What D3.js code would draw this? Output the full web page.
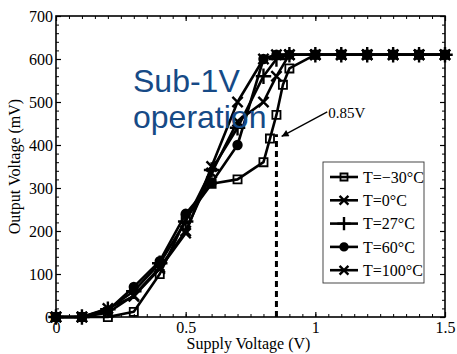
<!DOCTYPE html>
<html>
<head>
<meta charset="utf-8">
<script src="https://cdn.jsdelivr.net/npm/d3@7"></script>
<style>
  html, body { margin: 0; padding: 0; background: #fff; }
  svg { display: block; }
  text { font-family: "Liberation Serif", "Times New Roman", serif; fill: #000; }
</style>
</head>
<body>
<div id="chart"></div>
<script>
// ---- data (supply voltage in V, output voltage in mV) ----
const seriesNames = ["T=\u221230\u00B0C", "T=0\u00B0C", "T=27\u00B0C", "T=60\u00B0C", "T=100\u00B0C"];

const vddM30 = [0, 0.1, 0.2, 0.3, 0.4, 0.5, 0.6, 0.7, 0.8, 0.825, 0.85, 0.875, 0.9, 1.0, 1.1, 1.2, 1.3, 1.4, 1.5];
const voutM30 = [0, 0, 0, 12, 100, 228, 310, 320, 360, 415, 470, 540, 578, 610, 610, 610, 610, 610, 610];

const vdd0 = [0, 0.1, 0.2, 0.3, 0.4, 0.5, 0.6, 0.7, 0.8, 0.85, 0.9, 1.0, 1.1, 1.2, 1.3, 1.4, 1.5];
const vout0 = [0, 0, 10, 50, 115, 200, 335, 455, 500, 560, 610, 610, 610, 610, 610, 610, 610];

const vdd27 = [0, 0.1, 0.2, 0.3, 0.4, 0.5, 0.6, 0.7, 0.8, 0.85, 0.9, 1.0, 1.1, 1.2, 1.3, 1.4, 1.5];
const vout27 = [0, 0, 18, 60, 125, 222, 342, 440, 560, 600, 610, 610, 610, 610, 610, 610, 610];

const vdd60 = [0, 0.1, 0.2, 0.3, 0.4, 0.5, 0.6, 0.7, 0.8, 0.85, 0.9, 1.0, 1.1, 1.2, 1.3, 1.4, 1.5];
const vout60 = [0, 0, 15, 70, 130, 240, 312, 400, 600, 610, 610, 610, 610, 610, 610, 610, 610];

const vdd100 = [0, 0.1, 0.2, 0.3, 0.4, 0.5, 0.6, 0.7, 0.8, 0.85, 0.9, 1.0, 1.1, 1.2, 1.3, 1.4, 1.5];
const vout100 = [0, 0, 20, 48, 112, 195, 350, 500, 600, 610, 610, 610, 610, 610, 610, 610, 610];

const xTicks = [0, 0.5, 1, 1.5];
const yTicks = [0, 100, 200, 300, 400, 500, 600, 700];

// 0.85 V marker annotation
const markVdd = 0.85;
const markTop = 425;
const arrowFrom = [1.046, 477];
const arrowTo = [0.87, 420];
const arrowLabel = "0.85V";
const calloutLines = ["Sub-1V", "operation"];

// ---- layout ----
const W = 457, H = 354;
const margin = { top: 16, right: 12, bottom: 37, left: 56 };

const x = d3.scaleLinear().domain([0, 1.5]).range([margin.left, W - margin.right]);
const y = d3.scaleLinear().domain([0, 700]).range([H - margin.bottom, margin.top]);

const svg = d3.select("#chart").append("svg").attr("width", W).attr("height", H);

const xMinor = d3.range(0, 1.5001, 0.05).map(v => +v.toFixed(2));
const yMinor = d3.range(0, 700.1, 20);

// minor ticks (inward) on all four sides
function minorAxis(gen, vals, tr) {
  svg.append("g").attr("transform", tr)
    .call(gen.tickValues(vals).tickFormat("").tickSizeInner(-3).tickSizeOuter(0))
    .call(g => g.select(".domain").remove())
    .call(g => g.selectAll("line").attr("stroke", "#000").attr("stroke-width", 1));
}
minorAxis(d3.axisBottom(x), xMinor, `translate(0,${y(0)})`);
minorAxis(d3.axisTop(x), xMinor, `translate(0,${y(700)})`);
minorAxis(d3.axisLeft(y), yMinor, `translate(${x(0)},0)`);
minorAxis(d3.axisRight(y), yMinor, `translate(${x(1.5)},0)`);

// major ticks + labels
const fmtX = d3.format("");
svg.append("g").attr("transform", `translate(0,${y(0)})`)
  .call(d3.axisBottom(x).tickValues(xTicks).tickFormat(d => fmtX(d)).tickSizeInner(-5).tickSizeOuter(0).tickPadding(5))
  .call(g => g.select(".domain").remove())
  .call(g => g.selectAll("line").attr("stroke", "#000").attr("stroke-width", 1.2))
  .call(g => g.selectAll("text").attr("font-size", 16).attr("font-family", "Liberation Serif, serif"));
svg.append("g").attr("transform", `translate(0,${y(700)})`)
  .call(d3.axisTop(x).tickValues(xTicks).tickFormat("").tickSizeInner(-5).tickSizeOuter(0))
  .call(g => g.select(".domain").remove())
  .call(g => g.selectAll("line").attr("stroke", "#000").attr("stroke-width", 1.2));
svg.append("g").attr("transform", `translate(${x(0)},0)`)
  .call(d3.axisLeft(y).tickValues(yTicks).tickSizeInner(-5).tickSizeOuter(0).tickPadding(3))
  .call(g => g.select(".domain").remove())
  .call(g => g.selectAll("line").attr("stroke", "#000").attr("stroke-width", 1.2))
  .call(g => g.selectAll("text").attr("font-size", 16).attr("font-family", "Liberation Serif, serif"));
svg.append("g").attr("transform", `translate(${x(1.5)},0)`)
  .call(d3.axisRight(y).tickValues(yTicks).tickFormat("").tickSizeInner(-5).tickSizeOuter(0))
  .call(g => g.select(".domain").remove())
  .call(g => g.selectAll("line").attr("stroke", "#000").attr("stroke-width", 1.2));

// frame
svg.append("rect")
  .attr("x", x(0)).attr("y", y(700))
  .attr("width", x(1.5) - x(0)).attr("height", y(0) - y(700))
  .attr("fill", "none").attr("stroke", "#000").attr("stroke-width", 1.6);

// axis titles
svg.append("text")
  .attr("x", (x(0) + x(1.5)) / 2 - 2).attr("y", 349)
  .attr("text-anchor", "middle").attr("font-size", 16)
  .text("Supply Voltage (V)");
svg.append("text")
  .attr("transform", `translate(20,${(y(0) + y(700)) / 2}) rotate(-90)`)
  .attr("text-anchor", "middle").attr("font-size", 16)
  .text("Output Voltage (mV)");

// vertical dashed marker at 0.85 V
svg.append("line")
  .attr("x1", x(markVdd)).attr("x2", x(markVdd))
  .attr("y1", y(0)).attr("y2", y(markTop))
  .attr("stroke", "#000").attr("stroke-width", 3)
  .attr("stroke-dasharray", "6,4");

// series
const series = [
  { name: seriesNames[0], xs: vddM30, ys: voutM30, sym: d3.symbolSquare, size: 66, filled: false },
  { name: seriesNames[1], xs: vdd0, ys: vout0, sym: d3.symbolTimes, size: 70, filled: false },
  { name: seriesNames[2], xs: vdd27, ys: vout27, sym: d3.symbolPlus, size: 80, filled: false },
  { name: seriesNames[3], xs: vdd60, ys: vout60, sym: d3.symbolCircle, size: 50, filled: true },
  { name: seriesNames[4], xs: vdd100, ys: vout100, sym: d3.symbolTimes, size: 70, filled: false }
];

const line = d3.line().x(d => x(d[0])).y(d => y(d[1]));

function drawMarker(g, s, cx, cy, scale = 1) {
  g.append("path")
    .attr("transform", `translate(${cx},${cy})`)
    .attr("d", d3.symbol().type(s.sym).size(s.size * scale)())
    .attr("fill", s.filled ? "#000" : "none")
    .attr("stroke", "#000")
    .attr("stroke-width", s.sym === d3.symbolSquare ? 1.8 : 2.4);
}

const plot = svg.append("g");
series.forEach(s => {
  const pts = s.xs.map((v, i) => [v, s.ys[i]]);
  plot.append("path").datum(pts)
    .attr("d", line)
    .attr("fill", "none").attr("stroke", "#000")
    .attr("stroke-width", 2.6).attr("stroke-linejoin", "round");
});
series.forEach(s => {
  const g = plot.append("g");
  s.xs.forEach((v, i) => drawMarker(g, s, x(v), y(s.ys[i])));
});

// arrow annotation
svg.append("defs").append("marker")
  .attr("id", "head").attr("viewBox", "0 0 10 10")
  .attr("refX", 10).attr("refY", 5)
  .attr("markerWidth", 9).attr("markerHeight", 7)
  .attr("markerUnits", "userSpaceOnUse")
  .attr("orient", "auto")
  .append("path").attr("d", "M0,0 L10,5 L0,10 Z").attr("fill", "#000");
svg.append("line")
  .attr("x1", x(arrowFrom[0])).attr("y1", y(arrowFrom[1]))
  .attr("x2", x(arrowTo[0])).attr("y2", y(arrowTo[1]))
  .attr("stroke", "#000").attr("stroke-width", 1.3)
  .attr("marker-end", "url(#head)");
svg.append("text")
  .attr("x", x(arrowFrom[0]) + 1).attr("y", y(arrowFrom[1]) + 6)
  .attr("font-size", 15)
  .text(arrowLabel);

// blue callout text
const callout = svg.append("text")
  .attr("font-size", 32)
  .style("fill", "#164a86")
  .style("font-family", "'Liberation Sans', Arial, sans-serif");
callout.selectAll("tspan").data(calloutLines).join("tspan")
  .attr("x", 133)
  .attr("y", (d, i) => 91.5 + i * 36.5)
  .text(d => d);

// legend
const lg = svg.append("g");
const lgX = 323, lgY = 162, lgW = 101, lgH = 121;
lg.append("rect")
  .attr("x", lgX).attr("y", lgY).attr("width", lgW).attr("height", lgH)
  .attr("fill", "#fff").attr("stroke", "#333").attr("stroke-width", 0.9);
series.forEach((s, i) => {
  const cy = lgY + 15 + i * 23.3;
  lg.append("line")
    .attr("x1", lgX + 7).attr("x2", lgX + 35)
    .attr("y1", cy).attr("y2", cy)
    .attr("stroke", "#000").attr("stroke-width", 2.6);
  drawMarker(lg, s, lgX + 21, cy, 0.75);
  lg.append("text")
    .attr("x", lgX + 40).attr("y", cy).attr("dy", "0.35em")
    .attr("font-size", 16)
    .text(s.name);
});
</script>
</body>
</html>
